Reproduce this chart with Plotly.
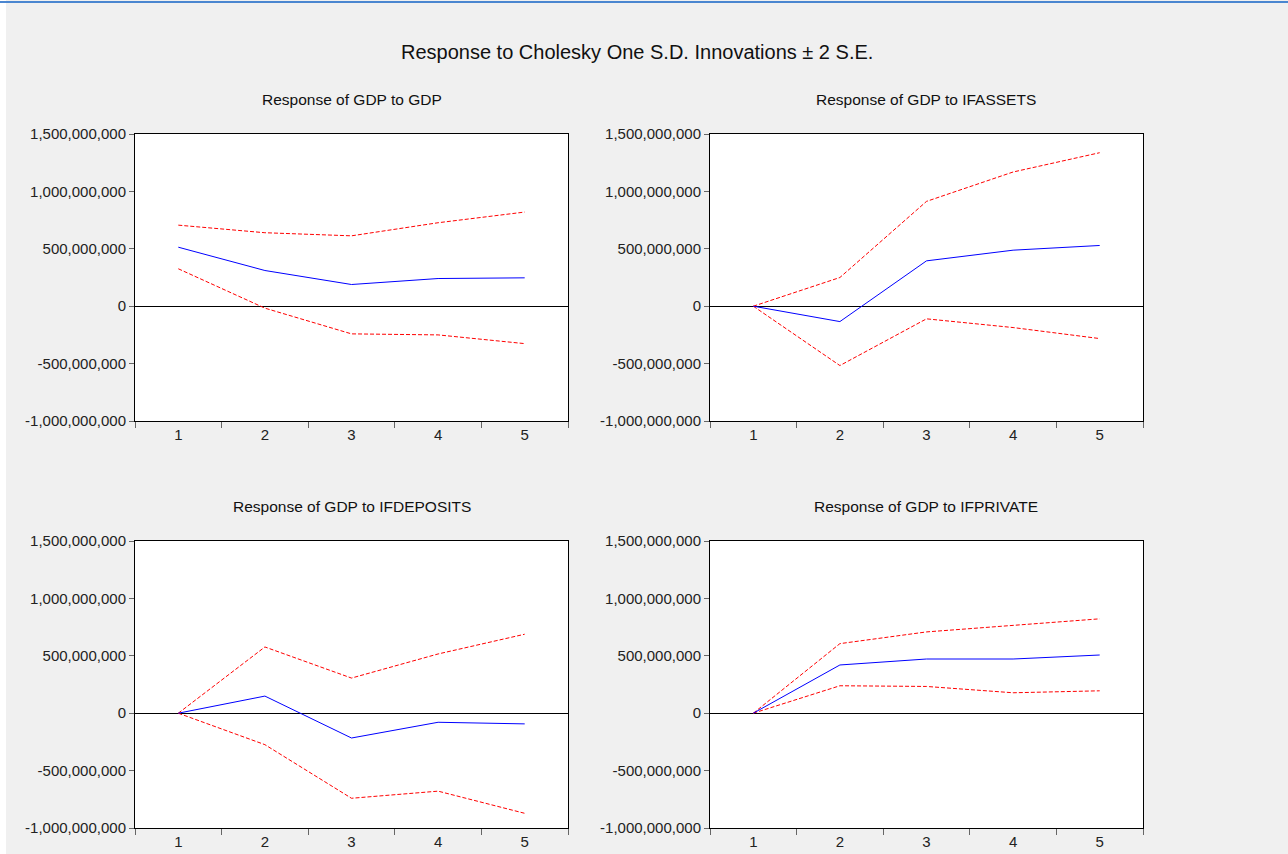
import plotly.graph_objects as go

periods = ["1", "2", "3", "4", "5"]

titles = [
    "Response of GDP to GDP",
    "Response of GDP to IFASSETS",
    "Response of GDP to IFDEPOSITS",
    "Response of GDP to IFPRIVATE",
]

# Impulse responses (point estimates)
resp_gdp = [514e6, 311e6, 189e6, 241e6, 247e6]
resp_ifassets = [0, -134e6, 395e6, 488e6, 529e6]
resp_ifdeposits = [0, 149e6, -216e6, -79e6, -93e6]
resp_ifprivate = [0, 420e6, 472e6, 472e6, 507e6]

# +2 S.E. bands
upper_gdp = [706e6, 640e6, 613e6, 727e6, 820e6]
upper_ifassets = [0, 250e6, 913e6, 1169e6, 1337e6]
upper_ifdeposits = [0, 577e6, 306e6, 516e6, 688e6]
upper_ifprivate = [0, 606e6, 708e6, 767e6, 822e6]

# -2 S.E. bands
lower_gdp = [326e6, -17e6, -241e6, -250e6, -326e6]
lower_ifassets = [0, -517e6, -110e6, -186e6, -282e6]
lower_ifdeposits = [0, -274e6, -741e6, -679e6, -872e6]
lower_ifprivate = [0, 239e6, 233e6, 178e6, 195e6]

y_tickvals = [-1e9, -5e8, 0, 5e8, 1e9, 1.5e9]
y_ticktext = ["-1,000,000,000", "-500,000,000", "0", "500,000,000",
              "1,000,000,000", "1,500,000,000"]

W, H = 1288, 854
panels = [
    (resp_gdp, upper_gdp, lower_gdp),
    (resp_ifassets, upper_ifassets, lower_ifassets),
    (resp_ifdeposits, upper_ifdeposits, lower_ifdeposits),
    (resp_ifprivate, upper_ifprivate, lower_ifprivate),
]

# pixel boxes of the four plot areas (left, right, top, bottom)
xcols = [(135, 568), (710, 1143)]
yrows = [(134, 421), (541, 828)]

TICK_FONT = dict(family="Liberation Sans, Arial", size=15, color="#222222")
TITLE_FONT = "Liberation Sans, Arial"

fig = go.Figure()
annotations = []
for i, (resp, up, lo) in enumerate(panels):
    r, c = divmod(i, 2)
    xa = "x" if i == 0 else f"x{i+1}"
    ya = "y" if i == 0 else f"y{i+1}"
    for vals, color, dash in ((up, "#FF0000", "4px,2px"), (lo, "#FF0000", "4px,2px"), (resp, "#0000FF", "solid")):
        fig.add_trace(go.Scatter(x=periods, y=vals, mode="lines",
                                 line=dict(color=color, width=1, dash=dash),
                                 xaxis=xa, yaxis=ya, showlegend=False, hoverinfo="skip"))
    x0, x1 = xcols[c]
    y0, y1 = yrows[r]
    dx = [x0 / W, x1 / W]
    dy = [1 - y1 / H, 1 - y0 / H]
    axname_x = "xaxis" if i == 0 else f"xaxis{i+1}"
    axname_y = "yaxis" if i == 0 else f"yaxis{i+1}"
    fig.layout[axname_x] = dict(
        domain=dx, anchor=ya, type="category", range=[-0.5, 4.5], automargin=False,
        tickson="boundaries", ticks="outside", ticklen=6, tickcolor="#666666",
        showline=True, linecolor="black", linewidth=1, mirror=True,
        showgrid=False, zeroline=False, tickfont=TICK_FONT,
        fixedrange=True,
    )
    fig.layout[axname_y] = dict(
        domain=dy, anchor=xa, range=[-1e9, 1.5e9], automargin=False,
        tickvals=y_tickvals, ticktext=y_ticktext,
        ticks="outside", ticklen=5, tickcolor="#666666",
        showline=True, linecolor="black", linewidth=1, mirror=True,
        showgrid=False, zeroline=True, zerolinecolor="black", zerolinewidth=1,
        tickfont=TICK_FONT,
        fixedrange=True,
    )
    annotations.append(dict(
        text=titles[i], x=(dx[0] + dx[1]) / 2, y=1 - (y0 - 35) / H,
        xref="paper", yref="paper", showarrow=False, xanchor="center", yanchor="middle",
        font=dict(family=TITLE_FONT, size=15.5, color="#111111"),
    ))

annotations.append(dict(
    text="Response to Cholesky One S.D. Innovations \u00b1 2 S.E.",
    x=637 / W, y=1 - 52 / H, xref="paper", yref="paper", showarrow=False,
    xanchor="center", yanchor="middle",
    font=dict(family=TITLE_FONT, size=20, color="#111111"),
))

shapes = [
    dict(type="rect", xref="paper", yref="paper", x0=0, x1=6 / W, y0=0, y1=1,
         fillcolor="white", line=dict(width=0), layer="below"),
    dict(type="line", xref="paper", yref="paper", x0=0, x1=1, y0=1 - 2 / H, y1=1 - 2 / H,
         line=dict(color="#4A86D0", width=2)),
]

fig.update_layout(
    autosize=True,
    margin=dict(l=0, r=0, t=0, b=0, pad=0),
    paper_bgcolor="#F0F0F0", plot_bgcolor="white",
    annotations=annotations, shapes=shapes,
    showlegend=False,
)

# Pin the 1288x854 figure to the top-left corner of the browser window so the
# page's default body margins do not shift or enlarge it.
fig.write_html("out.html", config={"displayModeBar": False, "responsive": False},
               default_width=f"{W}px; position:fixed; top:0; left:0",
               default_height=f"{H}px")
